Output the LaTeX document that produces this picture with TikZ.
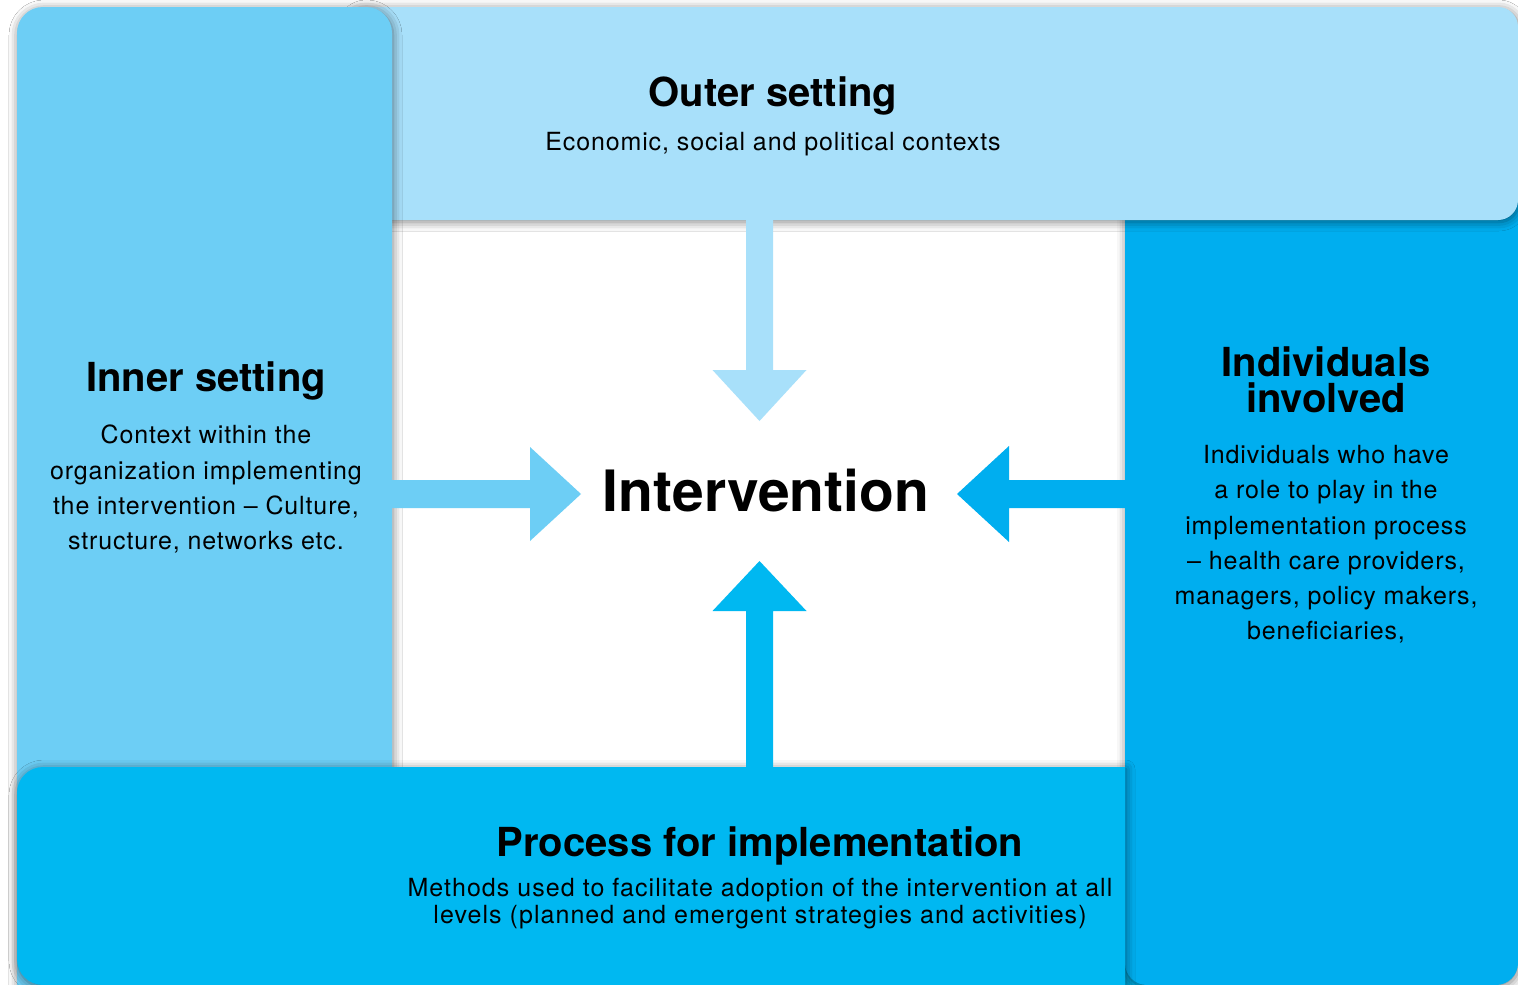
\documentclass[tikz,border=0pt]{standalone}
\usepackage{fontspec}
\setmainfont{TeX Gyre Heros}
\usetikzlibrary{shadows.blur,calc}
\definecolor{outerc}{HTML}{A8E0FA}
\definecolor{innerc}{HTML}{6DCEF5}
\definecolor{indc}{HTML}{00AEEF}
\definecolor{procc}{HTML}{00B8F1}
\begin{document}
\begin{tikzpicture}[x=1pt,y=-1pt,
  panelshadow/.style={blur shadow={shadow xshift=1pt,shadow yshift=-2pt,shadow blur radius=9pt,shadow opacity=50}},
  ttl/.style={font=\fontsize{40}{36.5}\selectfont\bfseries, align=center, inner sep=0pt},
  body/.style={font=\fontsize{25}{35.3}\selectfont\addfontfeature{LetterSpace=3.5}, align=center, inner sep=0pt},
  bigttl/.style={font=\fontsize{57}{60}\selectfont\bfseries, inner sep=0pt}]
\useasboundingbox (0,0) rectangle (1518,985);
\fill[white] (0,0) rectangle (1518,985);

% panels (pinwheel order)
\fill[procc] (1100,930) rectangle (1160,985);
\path[fill=indc, panelshadow, rounded corners=22pt] (1125,150) rectangle (1518,985);
\path[fill=outerc, panelshadow, rounded corners=20pt] (345,7) rectangle (1518,220);
\path[fill=innerc, panelshadow, rounded corners=26pt] (17,7) rectangle (392,1010);
\path[fill=procc, panelshadow] (1125,767) -- (1125,985) [rounded corners=26pt] -- (17,985) -- (17,767) [sharp corners] -- cycle;

% anchors of the panels' edges
\coordinate (outerEdge) at (759.5,220);
\coordinate (innerEdge) at (392,494);
\coordinate (indEdge) at (1125,494);
\coordinate (procEdge) at (759.5,767);

% central node
\node[bigttl, anchor=base] (intv) at (766,511) {Intervention};
\coordinate (tipT) at (759.5,421);
\coordinate (tipL) at (581,494);
\coordinate (tipR) at (957,494);
\coordinate (tipB) at (759.5,561);

% arrows
\fill[outerc] ($(outerEdge)+(-13.5,0)$) -- ($(tipT)+(-13.5,-51)$) -- ($(tipT)+(-47,-51)$) -- (tipT)
  -- ($(tipT)+(47,-51)$) -- ($(tipT)+(13.5,-51)$) -- ($(outerEdge)+(13.5,0)$) -- cycle;
\fill[procc] ($(procEdge)+(-13.5,0)$) -- ($(tipB)+(-13.5,50)$) -- ($(tipB)+(-47,50)$) -- (tipB)
  -- ($(tipB)+(47,50)$) -- ($(tipB)+(13.5,50)$) -- ($(procEdge)+(13.5,0)$) -- cycle;
\fill[innerc] ($(innerEdge)+(0,-14)$) -- ($(tipL)+(-51,-14)$) -- ($(tipL)+(-51,-47)$) -- (tipL)
  -- ($(tipL)+(-51,47)$) -- ($(tipL)+(-51,14)$) -- ($(innerEdge)+(0,14)$) -- cycle;
\fill[indc] ($(indEdge)+(0,-14)$) -- ($(tipR)+(52,-14)$) -- ($(tipR)+(52,-48)$) -- (tipR)
  -- ($(tipR)+(52,48)$) -- ($(tipR)+(52,14)$) -- ($(indEdge)+(0,14)$) -- cycle;

% texts
\node[ttl, anchor=base] (outerT) at (773,106.7) {Outer setting};
\node[body, anchor=base] (outerB) at (773,150) {Economic, social and political contexts};

\node[ttl, anchor=base] (innerT) at (206,391.7) {Inner setting};
\node[body, anchor=north] (innerB) at (206,425) {Context within the\\organization implementing\\the intervention -- Culture,\\structure, networks etc.};

\node[ttl, anchor=north] (indT) at (1326,346) {Individuals\\involved};
\node[body, anchor=north] (indB) at (1326,445) {Individuals who have\\a role to play in the\\implementation process\\-- health care providers,\\managers, policy makers,\\beneficiaries,};

\node[ttl, anchor=base] (procT) at (760,856.7) {Process for implementation};
\node[body, anchor=north, font=\fontsize{25}{27}\selectfont\addfontfeature{LetterSpace=4.2}] (procB) at (760,878) {Methods used to facilitate adoption of the intervention at all\\levels (planned and emergent strategies and activities)};
\end{tikzpicture}
\end{document}
